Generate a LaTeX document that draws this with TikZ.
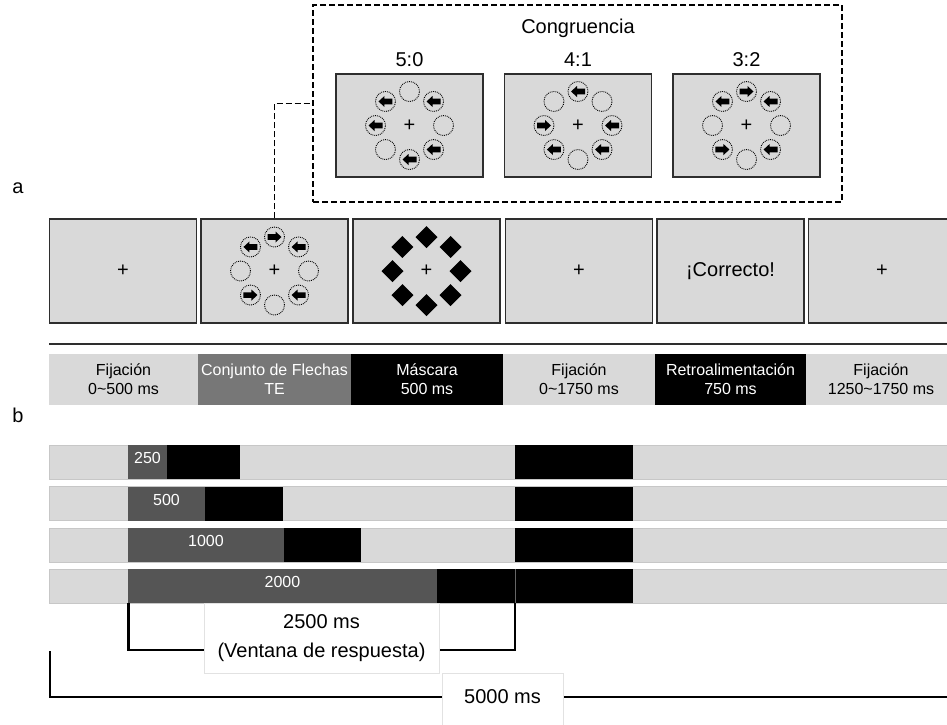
\documentclass[tikz,border=0pt]{standalone}
\usepackage{fontspec}
\setmainfont{Liberation Sans}
\definecolor{lg}{HTML}{D9D9D9}
\definecolor{mg}{HTML}{777777}
\definecolor{dg}{HTML}{555555}
\definecolor{bd}{HTML}{2E2E2E}
\definecolor{lb}{HTML}{E2E2E2}
\newcommand\fs[2]{\fontsize{#1}{#2}\selectfont}
\newcommand\stimarr[3]{%
 \begin{scope}[shift={(#1,#2)}]
  \foreach \k [count=\i from 0] in {#3}{
    \draw[dotc] ({34*sin(\i*45)},{-34*cos(\i*45)}) circle[radius=10pt];
    \ifnum\k=1 \fill[shift={({34*sin(\i*45)},{-34*cos(\i*45)})}] (-7,0) -- (-1,-5.5) -- (-1,-2.8) -- (7,-2.8) -- (7,2.8) -- (-1,2.8) -- (-1,5.5) -- cycle;\fi
    \ifnum\k=2 \fill[shift={({34*sin(\i*45)},{-34*cos(\i*45)})},xscale=-1] (-7,0) -- (-1,-5.5) -- (-1,-2.8) -- (7,-2.8) -- (7,2.8) -- (-1,2.8) -- (-1,5.5) -- cycle;\fi
  }
 \end{scope}}
\begin{document}
\begin{tikzpicture}[x=1pt,y=-1pt,
  panel/.style={draw=bd, line width=1.3pt, fill=lg, minimum width=147pt, minimum height=103pt, inner sep=0pt, font=\fs{20}{24}},
  dotc/.style={densely dotted, line width=0.9pt},
  dashframe/.style={dash pattern=on 6pt off 3pt, line width=1.2pt},
  seg/.style={inner sep=0pt, minimum height=51pt, align=center, font=\fs{16}{19}},
  rowbg/.style={fill=lg, draw=black!22, line width=0.6pt},
  num/.style={inner sep=0pt, text=white, font=\fs{16}{19}},
  brk/.style={line width=2.4pt},
  lblbox/.style={fill=white, draw=lb, line width=0.6pt},
  ttl/.style={inner sep=0pt, font=\fs{20}{24}}]
\useasboundingbox (0,0) rectangle (947,724);
\clip (0,0) rectangle (947,724);

% ---- panel letters
\node[ttl] (la) at (18,188) {a};
\node[ttl] (lb) at (18,415) {b};

% ---- inset
\node[draw, dashframe, minimum width=529pt, minimum height=197pt, inner sep=0pt] (inset) at (577.5,103.5) {};
\node[ttl] (cong) at (578,28) {Congruencia};
\node[ttl] (r50) at (409.5,60) {5:0};
\node[ttl] (r41) at (578,60) {4:1};
\node[ttl] (r32) at (746.5,60) {3:2};
\node[panel] (i1) at (409.5,125.5) {+};
\node[panel] (i2) at (578,125.5) {+};
\node[panel] (i3) at (746.5,125.5) {+};
\stimarr{409.5}{125.5}{0,1,0,1,1,0,1,1}
\stimarr{578}{125.5}{1,0,1,1,0,1,2,0}
\stimarr{746.5}{125.5}{2,1,0,1,0,2,0,1}

% ---- main row
\node[panel, minimum height=104pt] (p1) at (123,271) {+};
\node[panel, minimum height=104pt] (p2) at (274.5,271) {+};
\node[panel, minimum height=104pt] (p3) at (426.5,271) {+};
\node[panel, minimum height=104pt] (p4) at (579,271) {+};
\node[panel, minimum height=104pt] (p5) at (730.5,271) {¡Correcto!};
\node[panel, minimum height=104pt] (p6) at (882,271) {+};
\stimarr{274.5}{271}{2,1,0,1,0,2,0,1}
\foreach \i in {0,...,7}{
  \fill ({426.5+34*sin(\i*45)},{271-34*cos(\i*45)}) +(0,-11) -- +(11,0) -- +(0,11) -- +(-11,0) -- cycle;
}
\draw[dashframe] (p2.north) |- (inset.west);

% ---- timeline
\coordinate (h1) at (49,344);
\coordinate (h2) at (947,344);
\draw[line width=1.4pt, bd] (h1) -- (h2);
\node[seg, fill=lg, minimum width=149pt] (t1) at (123.5,379.5) {Fijación\\0\textasciitilde500 ms};
\node[seg, fill=mg, text=white, minimum width=153pt] (t2) at (274.5,379.5) {Conjunto de Flechas\\TE};
\node[seg, fill=black, text=white, minimum width=152pt] (t3) at (427,379.5) {Máscara\\500 ms};
\node[seg, fill=lg, minimum width=152pt] (t4) at (579,379.5) {Fijación\\0\textasciitilde1750 ms};
\node[seg, fill=black, text=white, minimum width=151pt] (t5) at (730.5,379.5) {Retroalimentación\\750 ms};
\node[seg, fill=lg, minimum width=150pt] (t6) at (881,379.5) {Fijación\\1250\textasciitilde1750 ms};

% ---- rows
\foreach \y/\g/\m/\n in {445/167/240/250, 486.5/205/283/500, 528/284/361/1000, 569/437/515/2000}{
  \draw[rowbg] (49,\y) rectangle (950,\y+34);
  \fill[dg] (128,\y) rectangle (\g,\y+34);
  \fill[black] (\g,\y) rectangle (\m,\y+34);
  \fill[black] (515,\y) rectangle (633,\y+34);
  \node[num] (n\n) at ({(128+\g)/2},\y+13) {\n};
}
\draw[black!60, line width=0.5pt] (515,569) -- (515,603);

% ---- brackets
\coordinate (w1) at (128.5,603);
\coordinate (w2) at (515,603);
\draw[brk] (w1) -- ++(0,47) -| (w2);
\coordinate (a1) at (50,651);
\coordinate (a2) at (950,697);
\draw[brk] (a1) |- (a2);
\node[lblbox, minimum width=235pt, minimum height=70pt, align=center, font=\fs{20}{29}, inner sep=0pt] (rw) at (321.5,638) {2500 ms\\(Ventana de respuesta)};
\draw[lblbox] (442,673) rectangle (563,740);
\node[ttl] (tot) at (502.5,697) {5000 ms};
\end{tikzpicture}
\end{document}
